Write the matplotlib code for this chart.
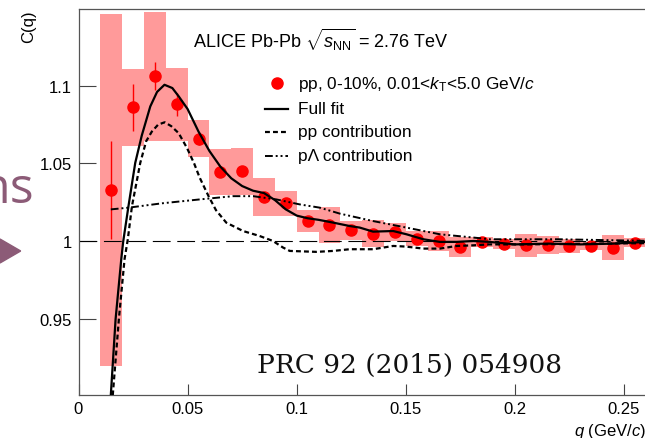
import matplotlib
matplotlib.use('Agg')
import matplotlib.pyplot as plt
from matplotlib.lines import Line2D
from matplotlib.patches import Polygon

# ---------------- data ----------------
q_points = [0.015, 0.025, 0.035, 0.045, 0.055, 0.065, 0.075, 0.085, 0.095, 0.105,
            0.115, 0.125, 0.135, 0.145, 0.155, 0.165, 0.175, 0.185, 0.195, 0.205,
            0.215, 0.225, 0.235, 0.245, 0.255]
C_points = [1.033, 1.086, 1.106, 1.088, 1.066, 1.0445, 1.045, 1.0285, 1.0244, 1.013,
            1.0105, 1.007, 1.005, 1.006, 1.0017, 1.0002, 0.9964, 0.9996, 0.998, 0.9974,
            0.9974, 0.997, 0.997, 0.996, 0.9991]
stat_err = [0.0315, 0.015, 0.009, 0.0075, 0.004, 0.003, 0.003, 0.002, 0.002, 0.002,
            0.002, 0.002, 0.002, 0.002, 0.002, 0.002, 0.002, 0.002, 0.002, 0.002,
            0.002, 0.002, 0.002, 0.002, 0.002]
sys_err = [0.113, 0.0245, 0.0415, 0.0235, 0.012, 0.0145, 0.015, 0.012, 0.0080, 0.007,
           0.0116, 0.006, 0.0085, 0.0055, 0.0048, 0.0064, 0.0064, 0.003, 0.0032, 0.0075,
           0.0058, 0.0043, 0.0025, 0.008, 0.0028]

full_q = [0.0148, 0.0170, 0.0196, 0.0205, 0.0229, 0.0260, 0.0290, 0.0329, 0.0360, 0.0394,
          0.0430, 0.0460, 0.0500, 0.0550, 0.0600, 0.0650, 0.0700, 0.0750, 0.0800, 0.0850,
          0.0900, 0.0950, 0.1000, 0.1050, 0.1100, 0.1167, 0.1243, 0.1289, 0.1350, 0.1442,
          0.1503, 0.1580, 0.1656, 0.1733, 0.1810, 0.1885, 0.2000, 0.2150, 0.2300, 0.2450,
          0.2600]
full_C = [0.901, 0.950, 0.9885, 1.000, 1.0226, 1.0504, 1.068, 1.0867, 1.096, 1.1006,
          1.0985, 1.093, 1.085, 1.0705, 1.058, 1.048, 1.0405, 1.0355, 1.0325, 1.031,
          1.0265, 1.0205, 1.0165, 1.0148, 1.0138, 1.012, 1.0098, 1.0088, 1.0062, 1.0066,
          1.0045, 1.0013, 0.9996, 0.9996, 1.0002, 0.9996, 0.998, 0.9985, 0.998, 0.9985,
          0.9996]

pp_q = [0.0157, 0.0185, 0.0211, 0.0226, 0.0245, 0.0283, 0.0310, 0.0336, 0.0365, 0.0395,
        0.0425, 0.0459, 0.0497, 0.0530, 0.0555, 0.0596, 0.0630, 0.0677, 0.0754, 0.0830,
        0.0891, 0.0937, 0.0968, 0.1090, 0.1167, 0.1243, 0.1350, 0.1442, 0.1500, 0.1580,
        0.1656, 0.1733, 0.1810, 0.1885, 0.2050, 0.2250, 0.2600]
pp_C = [0.901, 0.950, 0.9885, 1.0013, 1.0226, 1.0504, 1.0643, 1.0705, 1.075, 1.0765,
        1.074, 1.0695, 1.060, 1.050, 1.041, 1.029, 1.020, 1.012, 1.0066, 1.0034,
        1.0002, 0.996, 0.9938, 0.9932, 0.9938, 0.9949, 0.9949, 0.997, 0.9966, 0.9953,
        0.9953, 0.997, 0.9974, 0.998, 0.998, 0.9983, 0.9988]

pl_q = [0.0148, 0.0229, 0.0382, 0.0555, 0.0708, 0.0800, 0.0907, 0.1014, 0.1106, 0.1197,
        0.1350, 0.1503, 0.1656, 0.1810, 0.1885, 0.2200, 0.2600]
pl_C = [1.0205, 1.0216, 1.0244, 1.0269, 1.029, 1.029, 1.0269, 1.0237, 1.0216, 1.0178,
        1.013, 1.0088, 1.0045, 1.0024, 1.0013, 1.0013, 1.0003]

x_ticks = [0, 0.05, 0.1, 0.15, 0.2, 0.25]
x_tick_labels = ['0', '0.05', '0.1', '0.15', '0.2', '0.25']
y_ticks = [0.95, 1.0, 1.05, 1.1]
y_tick_labels = ['0.95', '1', '1.05', '1.1']

# ---------------- styling ----------------
plt.rcParams['font.family'] = ['Liberation Sans', 'DejaVu Sans']
plt.rcParams['mathtext.fontset'] = 'custom'
plt.rcParams['mathtext.rm'] = 'Liberation Sans'
plt.rcParams['mathtext.it'] = 'Liberation Sans:italic'
plt.rcParams['mathtext.bf'] = 'Liberation Sans:bold'

W, H = 645, 439
fig = plt.figure(figsize=(W / 100, H / 100), dpi=100)
fig.patch.set_facecolor('white')


def fx(px):
    return px / W


def fy(py):
    return 1 - py / H


ax = fig.add_axes([fx(78.5), fy(396), 1 - fx(78.5), (396 - 10) / H])
ax.set_xlim(0, 0.2596)
ax.set_ylim(0.9012, 1.1493)

box_color = '#ff9a9a'
ax.bar(q_points, [2 * s for s in sys_err],
       bottom=[c - s for c, s in zip(C_points, sys_err)],
       width=0.01, color=box_color, linewidth=0, zorder=1)
ax.axhline(1.0, color='black', lw=0.8, ls=(0, (16, 6)), zorder=2)
ax.errorbar(q_points, C_points, yerr=stat_err, fmt='o', color='red', ms=8,
            elinewidth=1.0, capsize=0, zorder=3)
ax.plot(full_q, full_C, color='black', lw=1.6, zorder=5)
ax.plot(pp_q, pp_C, color='black', lw=1.6, ls=(0, (2.2, 1.4)), zorder=5)
ax.plot(pl_q, pl_C, color='black', lw=1.4, ls=(0, (4.0, 1.5, 1.0, 1.5, 1.0, 1.5)), zorder=5)

ax.set_xticks(x_ticks)
ax.set_xticklabels(x_tick_labels)
ax.set_yticks(y_ticks)
ax.set_yticklabels(y_tick_labels)
ax.tick_params(axis='both', direction='in', labelsize=12, width=0.8, color='#444444')
ax.tick_params(axis='x', length=8, pad=4)
ax.tick_params(axis='y', length=12, pad=4.5)
ax.minorticks_off()
for s in ['left', 'bottom', 'top']:
    ax.spines[s].set_color('#555555')
    ax.spines[s].set_linewidth(0.9)
ax.spines['right'].set_visible(False)

# axis titles
fig.text(fx(29), fy(10), 'C(q)', rotation=90, ha='center', va='top', fontsize=12)
fig.text(fx(646), fy(436), r'$q$ (GeV/$c$)', ha='right', va='baseline', fontsize=12)

# header and legend
fig.text(fx(193), fy(48), r'ALICE Pb-Pb $\sqrt{s_{\rm NN}}$ = 2.76 TeV', ha='left',
         va='baseline', fontsize=13)
leg_y = [84, 110, 133, 157]
leg_txt = [r'pp, 0-10%, 0.01<$k_{\rm T}$<5.0 GeV/$c$', 'Full fit', 'pp contribution',
           'p\u039b contribution']
fig.add_artist(Line2D([fx(276.7)], [fy(leg_y[0])], marker='o', color='red', ms=8,
                      transform=fig.transFigure))
fig.add_artist(Line2D([fx(265), fx(288)], [fy(leg_y[1])] * 2, color='black', lw=1.6,
                      transform=fig.transFigure))
fig.add_artist(Line2D([fx(265), fx(288)], [fy(leg_y[2])] * 2, color='black', lw=1.6,
                      ls=(0, (2.2, 1.4)), transform=fig.transFigure))
fig.add_artist(Line2D([fx(265), fx(288)], [fy(leg_y[3])] * 2, color='black', lw=1.4,
                      ls=(0, (4.0, 1.5, 1.0, 1.5, 1.0, 1.5)), transform=fig.transFigure))
for y, t in zip(leg_y, leg_txt):
    fig.text(fx(298), fy(y), t, ha='left', va='center', fontsize=12.4)

# reference
fig.text(fx(257), fy(373), 'PRC 92 (2015) 054908', ha='left', va='baseline',
         fontsize=19, family='DejaVu Serif', color='#111111')

# slide decoration on the left
slide_col = '#8c5b77'
fig.text(fx(34), fy(203), 'ns', ha='right', va='baseline', fontsize=36,
         color=slide_col, family='Open Sans')
fig.add_artist(Polygon([(fx(0), fy(240)), (fx(20.7), fy(252)), (fx(0), fy(264))],
                       closed=True, color=slide_col, transform=fig.transFigure))

fig.savefig('out.png', dpi=100)
